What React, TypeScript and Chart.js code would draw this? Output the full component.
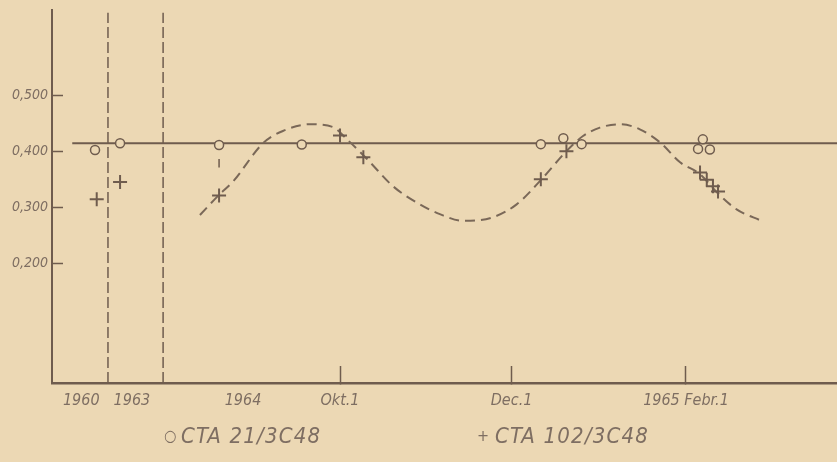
import React, { useEffect, useRef } from 'react';
import { Chart, registerables } from 'chart.js';

Chart.register(...registerables);

// x unit: days relative to 1 Oct 1964 (segments for 1960 and 1963 sit left of the break lines)
const xTickValues = [-92, -74, -34.5, 0, 61, 123];
const xTickLabels = ['1960', '1963', '1964', 'Okt.1', 'Dec.1', '1965 Febr.1'];
const xTickMarked = [false, false, false, true, true, true];

const yTickValues = [0.2, 0.3, 0.4, 0.5];
const yTickLabels = ['0,200', '0,300', '0,400', '0,500'];

// ○ CTA 21/3C48
const cta21X = [-87.1, -78.2, -43.0, -13.6, 71.4, 79.4, 85.9, 129.0, 127.3, 131.5];
const cta21Y = [0.402, 0.414, 0.411, 0.412, 0.4125, 0.423, 0.4125, 0.421, 0.404, 0.403];

// + CTA 102/3C48
const cta102X = [-86.5, -78.2, -43.0, 0.0, 8.3, 71.4, 80.5, 128.0, 130.4, 132.6, 134.4];
const cta102Y = [0.314, 0.345, 0.321, 0.428, 0.389, 0.35, 0.4, 0.362, 0.349, 0.3375, 0.328];

// dashed fitted curve
const curveX = [-49.8, -43.4, -38.0, -27.4, -20.3, -10.7, -2.5, 2.5, 9.6, 18.8, 28.4, 35.5, 43.7, 54.4, 62.8, 71.7, 80.6, 86.4, 92.4, 99.5, 106.6, 113.8, 120.9, 128.0, 133.9, 141.0, 149.9];
const curveY = [0.286, 0.32, 0.346, 0.414, 0.436, 0.448, 0.443, 0.421, 0.386, 0.3375, 0.305, 0.2875, 0.2755, 0.282, 0.305, 0.35, 0.4005, 0.427, 0.442, 0.448, 0.439, 0.4155, 0.38, 0.359, 0.327, 0.296, 0.2755];

// horizontal reference level
const refLevel = 0.414;
const refLineX = [-95.2, 176.7];

// small vertical mark under the 1964 circle
const markX = [-43.0, -43.0];
const markY = [0.386, 0.371];

// break lines between 1960 / 1963 / 1964
const breakX = [-82.5, -62.9];
const breakYRange = [-0.014, 0.647];

const xRange = [-102.4, 176.7];
const yRange = [-0.014, 0.652];

const PAPER = '#ecd8b4';
const INK = '#6f5c4e';
const TEXT = '#7e6e62';
const FONT_FAMILY = "'DejaVu Sans Condensed', 'DejaVu Sans', sans-serif";

const toPts = (xs: number[], ys: number[]) => xs.map((x, i) => ({ x, y: ys[i] }));

const paperPlugin = {
  id: 'paper',
  beforeDraw(chart: any) {
    const { ctx, width, height } = chart;
    ctx.save();
    ctx.fillStyle = PAPER;
    ctx.fillRect(0, 0, width, height);
    ctx.restore();
  },
};

const legendPlugin = {
  id: 'textLegend',
  afterDraw(chart: any) {
    const { ctx } = chart;
    const items = [
      { marker: '○', ds: 0, x: 164, tx: 181 },
      { marker: '+', ds: 1, x: 477, tx: 495 },
    ];
    ctx.save();
    ctx.fillStyle = TEXT;
    ctx.textBaseline = 'alphabetic';
    items.forEach((it) => {
      const label = chart.data.datasets[it.ds].label;
      ctx.font = `italic 16px ${FONT_FAMILY}`;
      ctx.fillText(it.marker, it.x, 441);
      ctx.font = `italic 22px ${FONT_FAMILY}`;
      try { (ctx as any).letterSpacing = '1.2px'; } catch (e) {}
      ctx.fillText(label, it.tx, 443);
      try { (ctx as any).letterSpacing = '0px'; } catch (e) {}
    });
    ctx.restore();
  },
};

export default function App() {
  const ref = useRef<HTMLCanvasElement | null>(null);

  useEffect(() => {
    document.body.style.margin = '0';
    const canvas = ref.current;
    if (!canvas) return;

    const chart = new Chart(canvas, {
      type: 'scatter',
      data: {
        datasets: [
          {
            label: 'CTA 21/3C48',
            data: toPts(cta21X, cta21Y),
            pointStyle: 'circle',
            pointRadius: 4.5,
            pointBorderWidth: 1.5,
            borderColor: INK,
            backgroundColor: PAPER,
            showLine: false,
          },
          {
            label: 'CTA 102/3C48',
            data: toPts(cta102X, cta102Y),
            pointStyle: 'cross',
            pointRadius: 7,
            pointBorderWidth: 2,
            borderColor: INK,
            backgroundColor: INK,
            showLine: false,
          },
          {
            label: 'curve',
            data: toPts(curveX, curveY),
            showLine: true,
            cubicInterpolationMode: 'monotone',
            borderColor: '#7a6858',
            borderWidth: 2,
            borderDash: [10, 6],
            pointRadius: 0,
          },
          {
            label: 'level',
            data: toPts(refLineX, [refLevel, refLevel]),
            showLine: true,
            borderColor: INK,
            borderWidth: 2,
            pointRadius: 0,
          },
          {
            label: 'mark',
            data: toPts(markX, markY),
            showLine: true,
            borderColor: INK,
            borderWidth: 1.5,
            pointRadius: 0,
          },
          ...breakX.map((bx, i) => ({
            label: 'break' + i,
            data: toPts([bx, bx], breakYRange),
            showLine: true,
            borderColor: INK,
            borderWidth: 1.5,
            borderDash: [11, 4],
            pointRadius: 0,
          })),
        ] as any,
      },
      options: {
        animation: false,
        responsive: false,
        devicePixelRatio: 1,
        layout: { autoPadding: false, padding: { top: 10, left: 0, right: 0, bottom: 0 } },
        plugins: { legend: { display: false }, tooltip: { enabled: false } },
        scales: {
          x: {
            type: 'linear',
            position: 'bottom',
            min: xRange[0],
            max: xRange[1],
            afterBuildTicks: (s: any) => {
              s.ticks = xTickValues.map((v) => ({ value: v }));
            },
            afterFit: (s: any) => {
              s.height = 79;
              s.paddingLeft = 0;
              s.paddingRight = 0;
            },
            grid: {
              drawOnChartArea: false,
              drawTicks: true,
              tickLength: -17,
              tickWidth: 1.5,
              tickColor: (c: any) => (xTickMarked[c.index] ? INK : 'rgba(0,0,0,0)'),
            },
            border: { display: true, color: INK, width: 2.5 },
            ticks: {
              autoSkip: false,
              maxRotation: 0,
              padding: 25,
              color: TEXT,
              font: { family: FONT_FAMILY, size: 16, style: 'italic' },
              callback: (_v: any, i: number) => xTickLabels[i],
            },
          },
          y: {
            type: 'linear',
            min: yRange[0],
            max: yRange[1],
            afterBuildTicks: (s: any) => {
              s.ticks = yTickValues.map((v) => ({ value: v }));
            },
            afterFit: (s: any) => {
              s.width = 52;
              s.paddingTop = 0;
              s.paddingBottom = 0;
            },
            grid: {
              drawOnChartArea: false,
              drawTicks: true,
              tickLength: -11,
              tickWidth: 1.5,
              tickColor: INK,
            },
            border: { display: true, color: INK, width: 2 },
            ticks: {
              autoSkip: false,
              padding: 15,
              color: TEXT,
              font: { family: FONT_FAMILY, size: 14, style: 'italic' },
              callback: (_v: any, i: number) => yTickLabels[i],
            },
          },
        },
      } as any,
      plugins: [paperPlugin, legendPlugin],
    });
    return () => chart.destroy();
  }, []);

  return <canvas ref={ref} width={837} height={462} style={{ display: 'block' }} />;
}
